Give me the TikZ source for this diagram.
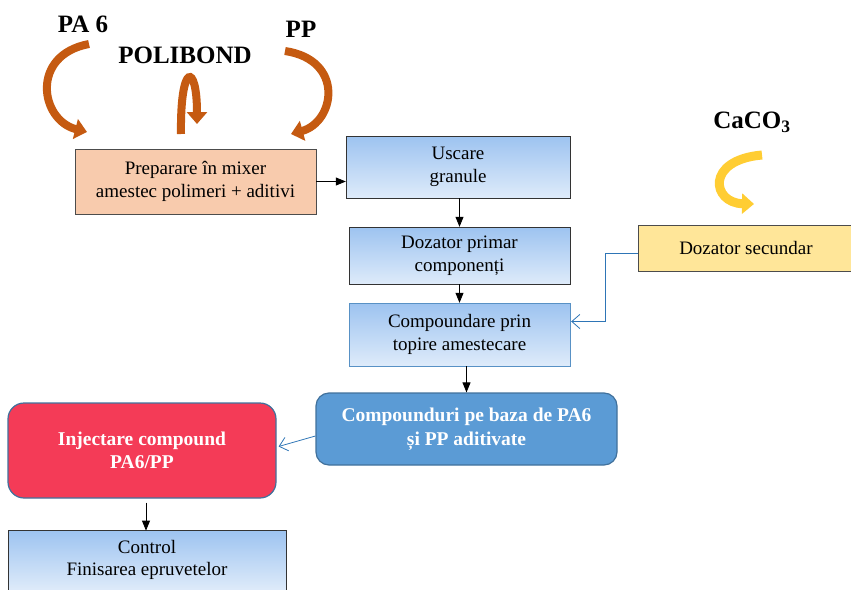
\documentclass[tikz,border=0pt]{standalone}
\usepackage{fontspec}
\setmainfont{Liberation Serif}
\usetikzlibrary{arrows.meta, positioning, calc}
\definecolor{mixpeach}{RGB}{248, 203, 173}
\definecolor{stepblue}{RGB}{157, 195, 240}
\definecolor{steplight}{RGB}{222, 235, 250}
\definecolor{secyellow}{RGB}{255, 230, 153}
\definecolor{compblue}{RGB}{91, 155, 213}
\definecolor{compedge}{RGB}{65, 113, 156}
\definecolor{injred}{RGB}{244, 59, 87}
\definecolor{feedorange}{RGB}{197, 90, 17}
\definecolor{feedgold}{RGB}{255, 192, 0}
\definecolor{linkblue}{RGB}{46, 117, 182}

\begin{document}
\begin{tikzpicture}[
    x=1pt, y=-1pt,
    box/.style={rectangle, draw=#1, minimum width=221pt, minimum height=60pt,
                inner sep=2pt, align=center, font=\fontsize{19}{22.5}\selectfont},
    gradbox/.style={box=#1, top color=stepblue, bottom color=steplight},
    roundbox/.style={box=compedge, rounded corners=13pt, line width=1.2pt,
                     text=white, font=\fontsize{19.5}{23.5}\selectfont\bfseries},
    label/.style={font=\fontsize{25}{28}\selectfont\bfseries},
    flow/.style={-{Triangle[length=10pt, width=8pt]}, line width=0.8pt},
    feed/.style={linkblue, line width=0.8pt, -{Straight Barb[length=8pt, width=14pt, line width=0.8pt]}},
    bend/.style={line width=8pt, draw=#1, -{Triangle[length=12pt, width=20pt]}},
]
\clip (0,0) rectangle (851,589);
\useasboundingbox (0,0) rectangle (851,589);

% process boxes
\node[box=black!70, fill=mixpeach, minimum width=241pt, minimum height=65pt] (mix) at (195.5,181.5) {Preparare în mixer\\amestec polimeri + aditivi};
\node[gradbox=black!80, minimum width=224pt, minimum height=62pt] (dry) at (458,167) {Uscare\\granule};
\node[gradbox=black!80, minimum height=57pt] (dose1) at (459.5,255.5) {Dozator primar\\componenți};
\node[gradbox=linkblue!80, minimum height=63pt] (melt) at (459.5,334.5) {Compoundare prin\\topire amestecare};
\node[box=black!70, fill=secyellow, minimum width=216pt, minimum height=46pt] (dose2) at (746,248) {Dozator secundar};
\node[roundbox, fill=compblue, minimum width=301pt, minimum height=72pt] (comp) at (466.5,429) {Compounduri pe baza de PA6\\și PP aditivate};
\node[roundbox, fill=injred, minimum width=268pt, minimum height=95pt, rounded corners=16pt] (inj) at (142,450.5) {Injectare compound\\PA6/PP};
\node[gradbox=black!80, minimum width=278pt, minimum height=60pt] (ctrl) at (147,560) {Control\\Finisarea epruvetelor};

% raw materials
\node[label] (pa) at (83,24) {PA 6};
\node[label] (pb) at (185,55) {POLIBOND};
\node[label] (pp) at (301,29) {PP};
\node[label] (ca) at (752,122) {CaCO\textsubscript{3}};

\draw[bend=feedorange] (89,44) .. controls (30,55) and (40,120) .. (87,132);
\draw[bend=feedorange] (181,134) .. controls (180,62) and (197,62) .. (197,124);
\draw[bend=feedorange] (285,51) .. controls (345,60) and (335,122) .. (291,134);
\draw[bend=feedgold!80, line width=9pt] (762,155) .. controls (705,160) and (712,203) .. (754,204);

% links
\draw[flow] (mix.east) -- (mix.east -| dry.west);
\draw[flow] (dry.south -| dose1.north) -- (dose1.north);
\draw[flow] (dose1) -- (melt);
\draw[flow] (melt.south -| comp.north) -- (comp.north);
\draw[feed] ($(dose2.west)+(0,5)$) -| ($(melt.east)+(35,-13)$) -- ($(melt.east)+(1,-13)$);
\draw[feed] ($(comp.west)+(0,7)$) -- ($(inj.east)+(2,-4)$);
\draw[flow] ($(inj.south)+(4,4)$) -- ($(inj.south)+(4,32)$);
\end{tikzpicture}
\end{document}
